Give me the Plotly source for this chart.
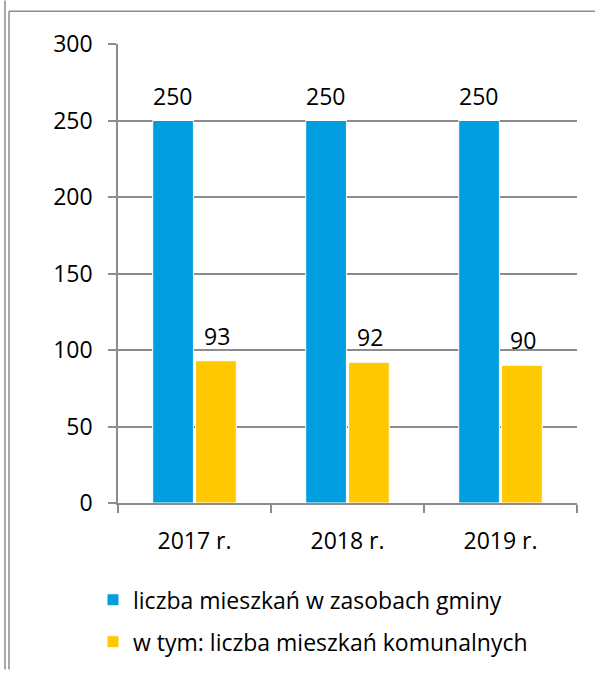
import plotly.graph_objects as go

categories = ["2017 r.", "2018 r.", "2019 r."]
series1_name = "liczba mieszkań w zasobach gminy"
series1_values = [250, 250, 250]
series2_name = "w tym: liczba mieszkań komunalnych"
series2_values = [93, 92, 90]
y_ticks = [0, 50, 100, 150, 200, 250, 300]

FONT = "Open Sans"
FS = 23
GRID = "#8c8c8c"
W, H = 595, 675
L, R, T, B = 118, 18, 44, 168
pw, ph = W - L - R, H - T - B

fig = go.Figure()
fig.add_trace(go.Bar(
    x=categories, y=series1_values, name=series1_name,
    marker=dict(color="#009ddf", line=dict(color="white", width=1)),
    legendgroup="a",
))
fig.add_trace(go.Bar(
    x=categories, y=series2_values, name=series2_name,
    marker=dict(color="#ffc800", line=dict(color="white", width=1)),
    legendgroup="b",
))

annotations = []
for vals, dx in ((series1_values, -22), (series2_values, 22)):
    for c, v in zip(categories, vals):
        annotations.append(dict(x=c, y=v, xref="x", yref="y", text=str(v), showarrow=False,
                                xanchor="center", yanchor="bottom", xshift=dx, yshift=7,
                                font=dict(size=FS, family=FONT, color="black")))

def px_x(p):
    return (p - L) / pw

def px_y(p):
    return (H - B - p) / ph

shapes = [
    dict(type="line", xref="paper", yref="paper", x0=px_x(5), x1=px_x(5), y0=px_y(0), y1=px_y(675),
         line=dict(color="#8c8c8c", width=1.5)),
    dict(type="line", xref="paper", yref="paper", x0=px_x(9), x1=px_x(9), y0=px_y(11), y1=px_y(675),
         line=dict(color="#8c8c8c", width=1.5)),
    dict(type="line", xref="paper", yref="paper", x0=px_x(9), x1=px_x(595), y0=px_y(11), y1=px_y(11),
         line=dict(color="#8c8c8c", width=1.5)),
]

fig.update_layout(
    width=W, height=H,
    margin=dict(l=L, r=R, t=T, b=B),
    paper_bgcolor="white", plot_bgcolor="white",
    font=dict(family=FONT, size=FS, color="black"),
    barmode="group", bargap=0.44, bargroupgap=0.05,
    showlegend=True,
    legend=dict(x=px_x(93), y=px_y(583), xanchor="left", yanchor="top",
                orientation="v", traceorder="grouped", tracegroupgap=9,
                font=dict(size=FS, family=FONT), bgcolor="rgba(0,0,0,0)"),
    shapes=shapes,
    annotations=annotations,
)
fig.update_xaxes(showline=True, linecolor=GRID, linewidth=1.5,
                 ticks="outside", tickson="boundaries", ticklen=8, tickcolor=GRID, tickwidth=1.5,
                 showgrid=False, tickfont=dict(size=FS, family=FONT), ticklabelstandoff=17)
fig.update_yaxes(range=[0, 300], tickvals=y_ticks, showline=True, linecolor=GRID, linewidth=1.5,
                 ticks="outside", ticklen=8, tickcolor=GRID, tickwidth=1.5,
                 showgrid=True, gridcolor=GRID, gridwidth=1.5, zeroline=False,
                 tickfont=dict(size=FS, family=FONT), ticklabelstandoff=11)

fig.write_html("out.html", config={"displayModeBar": False},
               post_script="document.body.style.margin='0';")
